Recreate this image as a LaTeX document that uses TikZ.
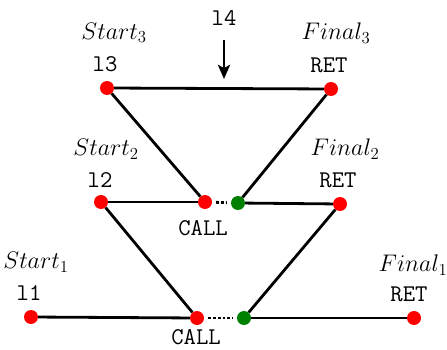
\documentclass[tikz,border=0pt]{standalone}
\usepackage{fix-cm}
\usetikzlibrary{arrows.meta}
\begin{document}
\begin{tikzpicture}[x=1pt,y=-1pt,
    every node/.style={font=\fontsize{24}{28}\selectfont},
    reddot/.style={circle, fill=red, inner sep=0pt, minimum size=14pt},
    greendot/.style={circle, fill=green!50!black, inner sep=0pt, minimum size=14pt},
    edge/.style={line width=2.8pt},
    gap/.style={line width=2.8pt, dotted, shorten <=4pt, shorten >=4pt}]
    \useasboundingbox (0,0) rectangle (447,350);
    % Draw the points
    \node[reddot] (s3) at (107,88) {};
    \node[reddot] (f3) at (331,89) {};
    \node[reddot] (s2) at (101,202) {};
    \node[reddot] (c2) at (205,202) {};
    \node[greendot] (r2) at (238,203) {};
    \node[reddot] (f2) at (340,204) {};
    \node[reddot] (s1) at (31,317) {};
    \node[reddot] (c1) at (197,318) {};
    \node[greendot] (r1) at (244,318) {};
    \node[reddot] (f1) at (414,318) {};
    \coordinate (hit) at (224,79);

    % Draw the edges
    \draw[edge] (s3) -- (f3);
    \draw[edge] (s3) -- (c2);
    \draw[edge] (f3) -- (r2);
    \draw[edge] (s2) -- (c2);
    \draw[edge] (r2) -- (f2);
    \draw[edge] (s2) -- (c1);
    \draw[edge] (f2) -- (r1);
    \draw[edge] (s1) -- (c1);
    \draw[edge] (r1) -- (f1);
    \draw[gap] (c2) -- (r2);
    \draw[gap] (c1) -- (r1);

    % Label the points
    \node (start3) at (114,33) {$Start_3$};
    \node (l3) at (105,64) {\texttt{l3}};
    \node (final3) at (336,33) {$Final_3$};
    \node (ret3) at (329,65) {\texttt{RET}};
    \node (l4) at (224,18) {\texttt{l4}};
    \node (start2) at (106,149) {$Start_2$};
    \node (l2) at (100,180) {\texttt{l2}};
    \node (final2) at (345,149) {$Final_2$};
    \node (ret2) at (338,180) {\texttt{RET}};
    \node (call2) at (203,228) {\texttt{CALL}};
    \node (start1) at (36,262) {$Start_1$};
    \node (l1) at (29,293) {\texttt{l1}};
    \node (final1) at (413,265) {$Final_1$};
    \node (ret1) at (409,294) {\texttt{RET}};
    \node (call1) at (196,337) {\texttt{CALL}};

    % Arrow into the top edge
    \draw[edge, -{Stealth[length=14pt, width=12pt, inset=3pt]}] (l4) ++(0,22) -- (hit);
\end{tikzpicture}
\end{document}
